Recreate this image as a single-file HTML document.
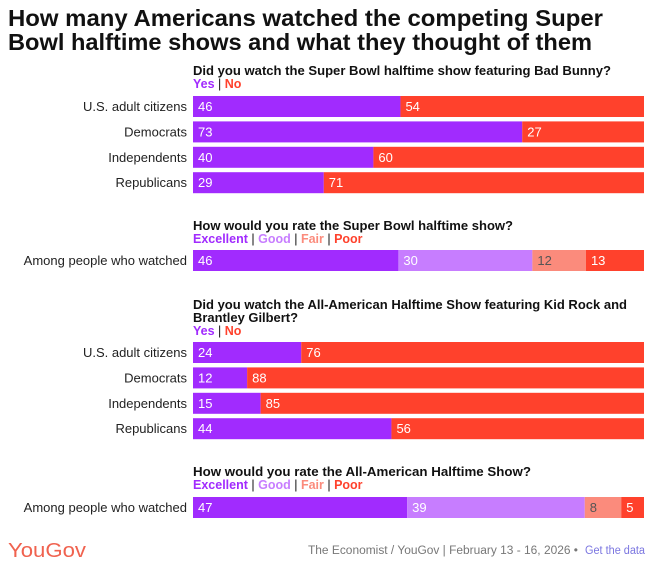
<!DOCTYPE html>
<html><head><meta charset="utf-8"><style>
body{margin:0;background:#fff;width:655px;height:563px;overflow:hidden}
svg{display:block;font-family:"Liberation Sans",sans-serif}
</style></head><body>
<svg id="c" width="655" height="563">
<text x="8" y="26" font-size="23" font-weight="bold" fill="#111" textLength="595" lengthAdjust="spacingAndGlyphs">How many Americans watched the competing Super</text>
<text x="8" y="50" font-size="23" font-weight="bold" fill="#111" textLength="584" lengthAdjust="spacingAndGlyphs">Bowl halftime shows and what they thought of them</text>
<g id="g"></g>
<text x="8" y="557" font-size="20" fill="#f0624f" textLength="78" lengthAdjust="spacingAndGlyphs">YouGov</text>
<text x="308" y="554" font-size="11.5" fill="#777" textLength="270" lengthAdjust="spacingAndGlyphs">The Economist / YouGov | February 13 - 16, 2026 •</text>
<text x="585" y="554" font-size="11.5" fill="#7b76e0" textLength="60" lengthAdjust="spacingAndGlyphs">Get the data</text>
</svg>
<script>
const groups=["U.S. adult citizens","Democrats","Independents","Republicans"];
const bunnyYes=[46,73,40,29];
const bunnyNo=[54,27,60,71];
const kidYes=[24,12,15,44];
const kidNo=[76,88,85,56];
const ratingCats=["Excellent","Good","Fair","Poor"];
const bunnyRating=[46,30,12,13];
const kidRating=[47,39,8,5];
const X0=193,W=451,BH=21;
const colors2=["#a12bfe","#ff412c"];
const colors4=["#a12bfe","#c77dff","#fb8b7c","#ff412c"];
const txt4=["#fff","#fff","#555","#fff"];
const g=document.getElementById('g');
const NS="http://www.w3.org/2000/svg";
function el(t,a,parent){const e=document.createElementNS(NS,t);for(const k in a)e.setAttribute(k,a[k]);(parent||g).appendChild(e);return e;}
function xs(v,total){return v/total*W;}
function question(y,lines,lens){
  lines.forEach((l,i)=>{const t=el('text',{x:X0,y:y+i*13,'font-size':13,'font-weight':'bold',fill:'#111',textLength:lens[i],lengthAdjust:'spacingAndGlyphs'});
  
  
  t.textContent=l;});
}
function legend(y,cats,cols){
  const t=el('text',{x:X0,y:y,'font-size':12.5,'font-weight':'bold'});
  
  
  cats.forEach((c,i)=>{if(i>0){const s=el('tspan',{fill:'#111','font-weight':'normal'},t);s.textContent=' | ';}
  const s=el('tspan',{fill:cols[i]},t);s.textContent=c;});
}
function row(y,label,vals,cols,tcols){
  const lb=el('text',{x:187,y:y+15,'font-size':13,fill:'#222','text-anchor':'end'});
  
  
  lb.textContent=label;
  const total=vals.reduce((a,b)=>a+b,0);let x=X0;
  vals.forEach((v,i)=>{const w=xs(v,total);
    const r=el('rect',{x:x,y:y,width:w,height:BH,fill:cols[i]});
    
    
    const t=el('text',{x:x+5,y:y+15,'font-size':13,fill:tcols[i]});
    
    
    t.textContent=v;x+=w;});
}
question(75,["Did you watch the Super Bowl halftime show featuring Bad Bunny?"],[418]);
legend(88,["Yes","No"],colors2);
groups.forEach((gname,i)=>row(96+i*25.4,gname,[bunnyYes[i],bunnyNo[i]],colors2,["#fff","#fff"]));
question(230,["How would you rate the Super Bowl halftime show?"],[320]);
legend(243,ratingCats,colors4);
row(250,"Among people who watched",bunnyRating,colors4,txt4);
question(309,["Did you watch the All-American Halftime Show featuring Kid Rock and","Brantley Gilbert?"],[434,105]);
legend(335,["Yes","No"],colors2);
groups.forEach((gname,i)=>row(342+i*25.4,gname,[kidYes[i],kidNo[i]],colors2,["#fff","#fff"]));
question(476,["How would you rate the All-American Halftime Show?"],[338]);
legend(489,ratingCats,colors4);
row(497,"Among people who watched",kidRating,colors4,txt4);
</script>
</body></html>
